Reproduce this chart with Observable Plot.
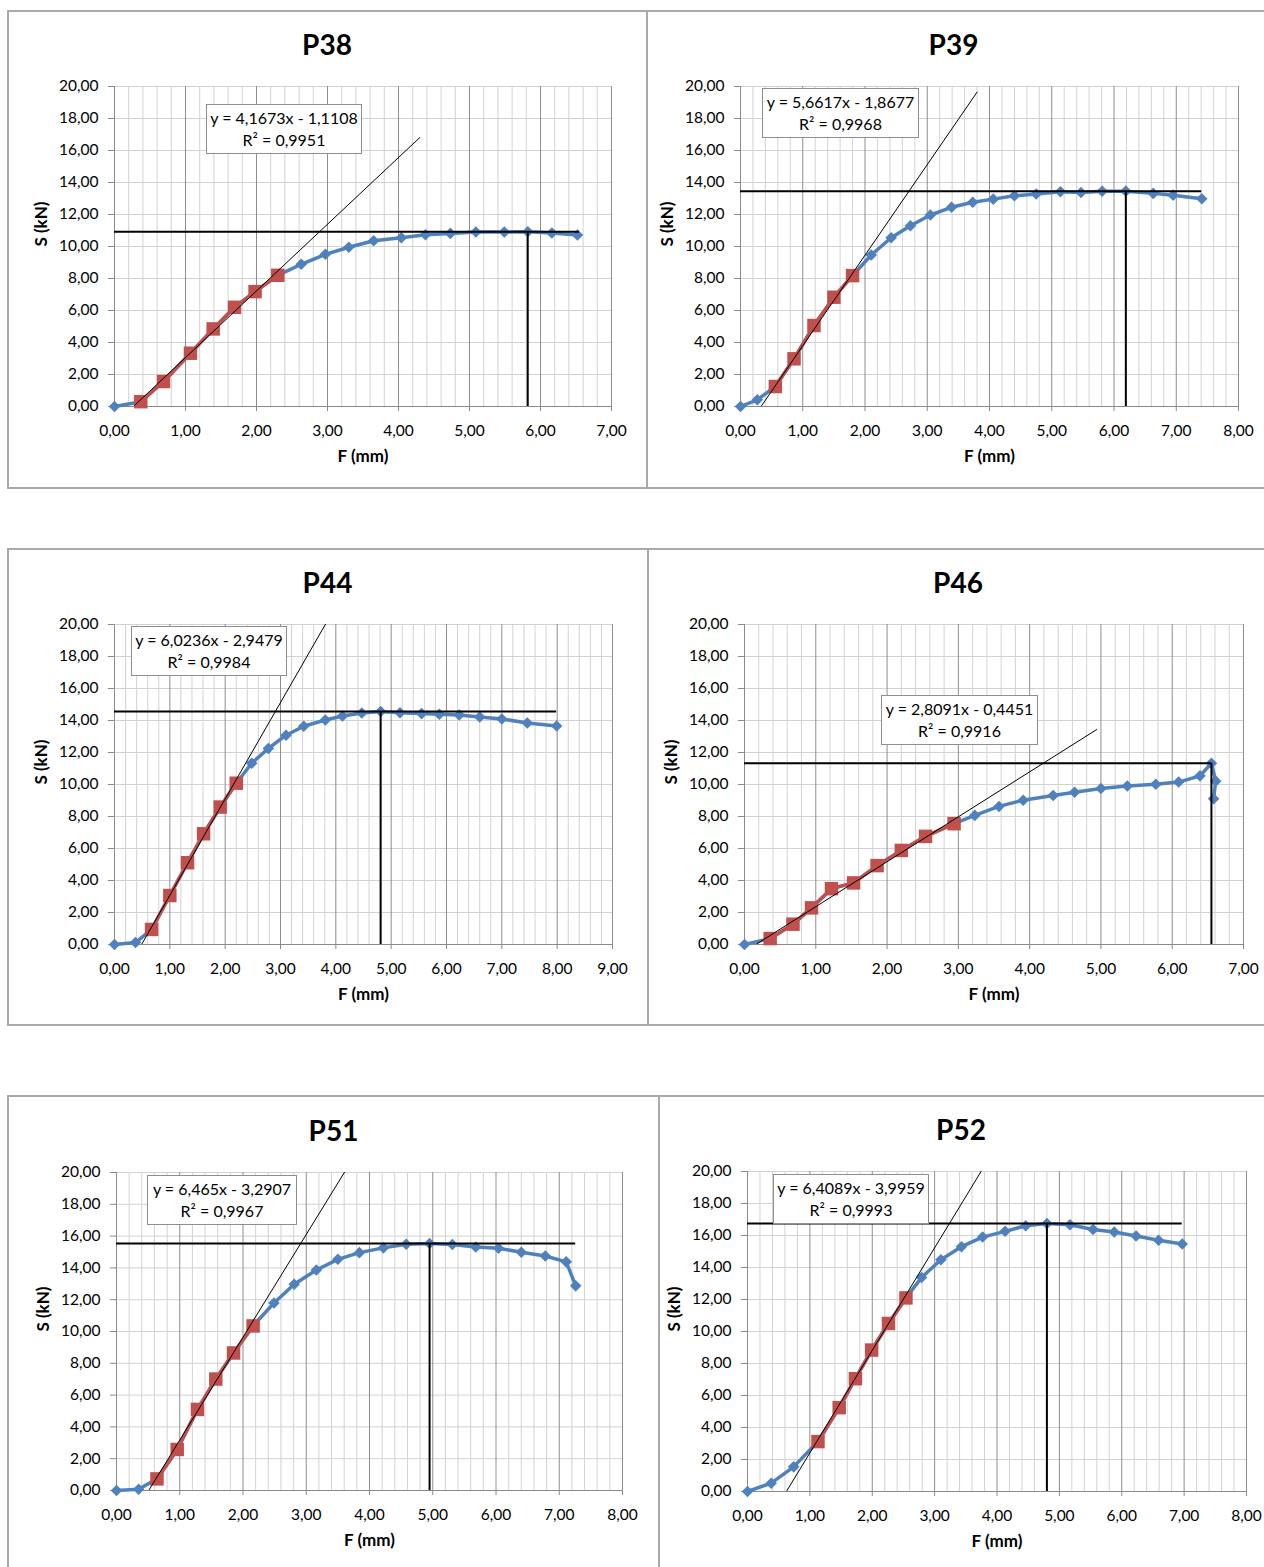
<!DOCTYPE html>
<html>
<head>
<meta charset="utf-8">
<script src="https://cdn.jsdelivr.net/npm/d3@7"></script>
<script src="https://cdn.jsdelivr.net/npm/@observablehq/plot@0.6"></script>
<style>
  body { margin: 0; background: #fff; }
  #page { position: relative; width: 1264px; height: 1567px; overflow: hidden; background: #fff;
          font-family: Lato, "Open Sans", sans-serif; }
  .frame { position: absolute; border: 2px solid #a9a9a9; box-sizing: border-box; }
  .chart { position: absolute; }
  .chart svg { display: block; max-width: none !important; }
  .fit { position: absolute; background: #fff; border: 1px solid #8e8e8e; box-sizing: border-box;
         text-align: center; font-size: 16px; line-height: 22px; padding-top: 2px; color: #000; white-space: nowrap; }
</style>
</head>
<body>
<div id="page"></div>
<script>
// Load–deflection curves: S (kN) against F (mm), one panel per specimen.
const specimens = ["P38", "P39", "P44", "P46", "P51", "P52"];

const F_P38 = [0, 0.37, 0.69, 1.07, 1.39, 1.69, 1.98, 2.30, 2.63, 2.97, 3.30, 3.65, 4.04, 4.38, 4.73, 5.09, 5.49, 5.82, 6.16, 6.52];
const S_P38 = [0, 0.30, 1.56, 3.33, 4.85, 6.20, 7.18, 8.20, 8.89, 9.51, 9.95, 10.36, 10.55, 10.74, 10.82, 10.90, 10.90, 10.92, 10.84, 10.72];

const F_P39 = [0, 0.27, 0.56, 0.86, 1.18, 1.50, 1.80, 2.10, 2.42, 2.73, 3.05, 3.39, 3.73, 4.06, 4.40, 4.75, 5.14, 5.47, 5.81, 6.19, 6.63, 6.95, 7.41];
const S_P39 = [0, 0.42, 1.25, 2.98, 5.06, 6.83, 8.18, 9.47, 10.55, 11.30, 11.97, 12.45, 12.77, 12.96, 13.17, 13.28, 13.42, 13.38, 13.45, 13.46, 13.32, 13.21, 12.98];

const F_P44 = [0, 0.38, 0.67, 1.00, 1.32, 1.61, 1.91, 2.20, 2.48, 2.78, 3.10, 3.42, 3.81, 4.12, 4.47, 4.81, 5.16, 5.55, 5.87, 6.23, 6.60, 7.00, 7.46, 7.99];
const S_P44 = [0, 0.12, 0.94, 3.06, 5.11, 6.92, 8.59, 10.08, 11.33, 12.25, 13.08, 13.64, 14.03, 14.28, 14.47, 14.56, 14.49, 14.43, 14.39, 14.35, 14.22, 14.10, 13.85, 13.66];

const F_P46 = [0, 0.36, 0.68, 0.94, 1.22, 1.53, 1.86, 2.20, 2.54, 2.94, 3.23, 3.57, 3.91, 4.33, 4.63, 5.00, 5.37, 5.77, 6.09, 6.39, 6.55, 6.61, 6.58];
const S_P46 = [0, 0.37, 1.27, 2.29, 3.49, 3.85, 4.93, 5.88, 6.76, 7.55, 8.07, 8.63, 9.02, 9.31, 9.52, 9.75, 9.90, 10.02, 10.15, 10.54, 11.33, 10.21, 9.11];

const F_P51 = [0, 0.35, 0.64, 0.96, 1.28, 1.57, 1.85, 2.16, 2.49, 2.81, 3.16, 3.50, 3.84, 4.22, 4.58, 4.95, 5.31, 5.68, 6.04, 6.40, 6.78, 7.11, 7.26];
const S_P51 = [0, 0.08, 0.73, 2.58, 5.10, 7.01, 8.65, 10.35, 11.79, 12.97, 13.87, 14.54, 14.96, 15.26, 15.49, 15.53, 15.47, 15.32, 15.24, 14.98, 14.75, 14.38, 12.87];

const F_P52 = [0, 0.38, 0.74, 1.13, 1.47, 1.73, 1.99, 2.26, 2.54, 2.79, 3.10, 3.43, 3.77, 4.13, 4.46, 4.80, 5.17, 5.54, 5.88, 6.23, 6.59, 6.97];
const S_P52 = [0, 0.52, 1.54, 3.12, 5.24, 7.05, 8.84, 10.50, 12.10, 13.37, 14.49, 15.30, 15.90, 16.26, 16.61, 16.75, 16.67, 16.38, 16.22, 15.97, 15.70, 15.47];

// Points used for the linear fit (first and last index, inclusive)
const fitFirst = [1, 2, 2, 1, 2, 3];
const fitLast  = [7, 6, 7, 9, 7, 8];

// Linear trend lines y = slope·x + intercept
const slope     = [4.1673, 5.6617, 6.0236, 2.8091, 6.465, 6.4089];
const intercept = [-1.1108, -1.8677, -2.9479, -0.4451, -3.2907, -3.9959];
const rSquared  = [0.9951, 0.9968, 0.9984, 0.9916, 0.9967, 0.9993];
const forecast = 2; // forward extension of the trend line, mm

// Maximum load markers
const peakF = [5.82, 6.19, 4.81, 6.55, 4.95, 4.80];
const peakS = [10.92, 13.46, 14.56, 11.33, 15.53, 16.75];
const peakLineEnd = [6.55, 7.41, 7.99, 6.55, 7.26, 6.97];

// Axes
const xMax = [7, 8, 9, 7, 8, 8];
const yTicks = [0, 2, 4, 6, 8, 10, 12, 14, 16, 18, 20];

const curves = {
  P38: [F_P38, S_P38], P39: [F_P39, S_P39], P44: [F_P44, S_P44],
  P46: [F_P46, S_P46], P51: [F_P51, S_P51], P52: [F_P52, S_P52]
};

// Page layout: panel frame [x0, y0, x1, y1], plot area [left, right, top, bottom], fit box [x, y, w, h]
const layout = [
  {frame: [7, 10, 648, 489],    plot: [114, 611, 86, 406],    box: [206, 104, 156, 50]},
  {frame: [646, 10, 1272, 489], plot: [740, 1238, 86, 406],   box: [762, 88, 157, 50]},
  {frame: [7, 548, 649, 1026],  plot: [114, 612, 624, 944],   box: [131, 626, 156, 50]},
  {frame: [647, 548, 1272, 1026], plot: [744, 1243, 624, 944], box: [881, 695, 157, 50]},
  {frame: [7, 1095, 660, 1580], plot: [116, 622, 1172, 1490], box: [147, 1175, 150, 50]},
  {frame: [658, 1095, 1272, 1580], plot: [747, 1246, 1171, 1491], box: [773, 1174, 156, 50]}
];

const blue = "#4F81BD";
const red = "#C0504D";
const fmt = v => v.toFixed(2).replace(".", ",");
const dec = v => String(v).replace(".", ",");

const page = document.getElementById("page");

specimens.forEach((name, i) => {
  const [F, S] = curves[name];
  const pts = F.map((f, j) => ({f, s: S[j]}));
  const fitPts = pts.slice(fitFirst[i], fitLast[i] + 1);
  const a = slope[i], b = intercept[i];
  const trend = [-b / a, fitPts[fitPts.length - 1].f + forecast].map(f => ({f, s: a * f + b}));

  const majors = d3.range(1, xMax[i] + 1);
  const minors = d3.range(1, xMax[i] * 5).filter(k => k % 5 !== 0).map(k => k / 5);

  const {frame, plot, box} = layout[i];
  const [x0, y0, x1, y1] = frame;
  const [L, R, T, B] = plot;

  const border = document.createElement("div");
  border.className = "frame";
  Object.assign(border.style, {left: x0 + "px", top: y0 + "px", width: (x1 - x0) + "px", height: (y1 - y0) + "px"});
  page.appendChild(border);

  const chart = Plot.plot({
    width: x1 - x0,
    height: y1 - y0,
    marginLeft: L - x0,
    marginRight: x1 - R,
    marginTop: T - y0,
    marginBottom: y1 - B,
    x: {domain: [0, xMax[i]]},
    y: {domain: [0, 20]},
    style: {fontFamily: "Lato, 'Open Sans', sans-serif", fontSize: "15.5px", color: "#000", background: "transparent", overflow: "visible", maxWidth: "none"},
    marks: [
      Plot.ruleX(minors, {stroke: "#d2d2d2", strokeWidth: 1}),
      Plot.ruleY(yTicks.filter(v => v > 0), {stroke: "#d2d2d2", strokeWidth: 1}),
      Plot.ruleX(majors, {stroke: "#8e8e8e", strokeWidth: 1}),
      Plot.ruleX([0], {stroke: "#8a8a8a", strokeWidth: 1}),
      Plot.ruleY([0], {stroke: "#8a8a8a", strokeWidth: 1}),
      Plot.axisX({ticks: d3.range(0, xMax[i] + 1), tickFormat: fmt, tickSize: 5, tickPadding: 13, stroke: "#8a8a8a", label: null}),
      Plot.axisY({ticks: yTicks, tickFormat: fmt, tickSize: 6, tickPadding: 10, stroke: "#8a8a8a", label: null}),
      Plot.line(pts, {x: "f", y: "s", stroke: blue, strokeWidth: 3.5, strokeLinejoin: "round"}),
      Plot.dot(pts, {x: "f", y: "s", symbol: "diamond2", r: 5.2, fill: blue, stroke: null}),
      Plot.line(fitPts, {x: "f", y: "s", stroke: red, strokeWidth: 3.5, strokeLinejoin: "round"}),
      Plot.dot(fitPts, {x: "f", y: "s", symbol: "square", r: 7.6, fill: red, stroke: null}),
      Plot.line(trend, {x: "f", y: "s", stroke: "#000", strokeWidth: 1, clip: true}),
      Plot.ruleY([peakS[i]], {x1: 0, x2: peakLineEnd[i], stroke: "#000", strokeWidth: 2}),
      Plot.ruleX([peakF[i]], {y1: 0, y2: peakS[i], stroke: "#000", strokeWidth: 2}),
      Plot.text([name], {text: d => d, frameAnchor: "top", dx: -36, dy: -40, fontSize: 28, fontWeight: "bold", lineAnchor: "middle", fill: "#000"}),
      Plot.text(["S (kN)"], {text: d => d, frameAnchor: "left", dx: -73, rotate: -90, fontSize: 17, fontWeight: "bold", lineAnchor: "middle", fill: "#000"}),
      Plot.text(["F (mm)"], {text: d => d, frameAnchor: "bottom", dy: 50, fontSize: 17, fontWeight: "bold", lineAnchor: "middle", fill: "#000"})
    ]
  });

  const holder = document.createElement("div");
  holder.className = "chart";
  Object.assign(holder.style, {left: x0 + "px", top: y0 + "px", width: (x1 - x0) + "px", height: (y1 - y0) + "px"});
  holder.appendChild(chart);
  page.appendChild(holder);

  const [bx, by, bw, bh] = box;
  const label = document.createElement("div");
  label.className = "fit";
  Object.assign(label.style, {left: bx + "px", top: by + "px", width: bw + "px", height: bh + "px"});
  const line1 = document.createElement("div");
  line1.textContent = `y = ${dec(a)}x - ${dec(-b)}`;
  const line2 = document.createElement("div");
  line2.textContent = `R² = ${dec(rSquared[i])}`;
  label.append(line1, line2);
  page.appendChild(label);
});
</script>
</body>
</html>
